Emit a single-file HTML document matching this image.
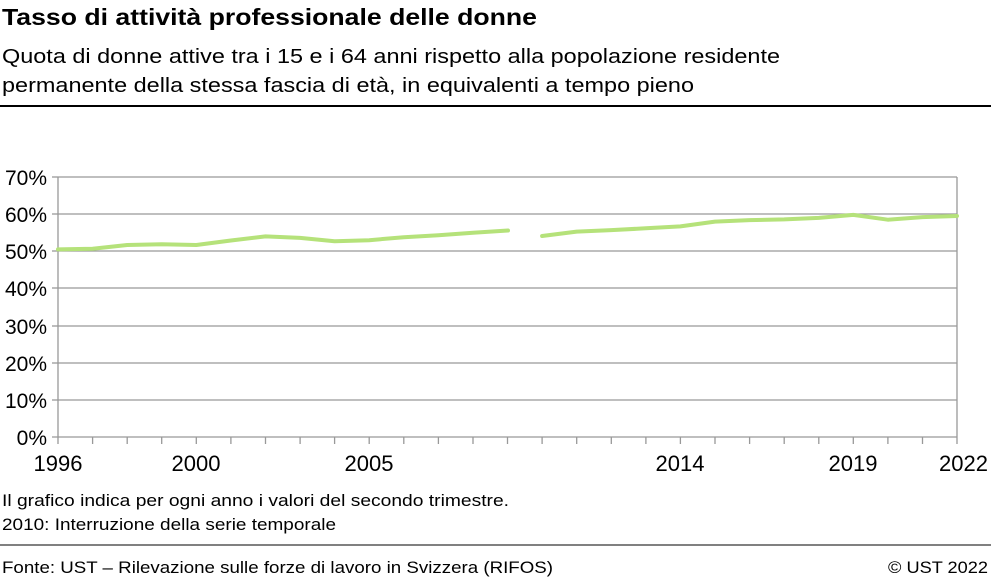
<!DOCTYPE html>
<html><head><meta charset="utf-8"><style>
body{margin:0;width:991px;height:580px;background:#fff;overflow:hidden;font-family:"Liberation Sans",sans-serif;}
svg{position:absolute;left:0;top:0}
</style></head><body>
<svg width="991" height="580" xmlns="http://www.w3.org/2000/svg" font-family="Liberation Sans, sans-serif">
<text x="2" y="25" font-size="23" font-weight="bold" fill="#000" textLength="535" lengthAdjust="spacingAndGlyphs">Tasso di attività professionale delle donne</text>
<text x="2" y="63" font-size="20" fill="#000" textLength="778" lengthAdjust="spacingAndGlyphs">Quota di donne attive tra i 15 e i 64 anni rispetto alla popolazione residente</text>
<text x="2" y="92" font-size="20" fill="#000" textLength="692" lengthAdjust="spacingAndGlyphs">permanente della stessa fascia di età, in equivalenti a tempo pieno</text>
<line x1="0" y1="106" x2="991" y2="106" stroke="#000" stroke-width="2"/>
<g stroke="#999" stroke-width="1.3">
<line x1="58" y1="177" x2="957" y2="177"/>
<line x1="58" y1="214" x2="957" y2="214"/>
<line x1="58" y1="251" x2="957" y2="251"/>
<line x1="58" y1="288" x2="957" y2="288"/>
<line x1="58" y1="326" x2="957" y2="326"/>
<line x1="58" y1="363" x2="957" y2="363"/>
<line x1="58" y1="400" x2="957" y2="400"/>
<line x1="52" y1="437" x2="957" y2="437"/>
<line x1="52" y1="177" x2="58" y2="177"/><line x1="52" y1="214" x2="58" y2="214"/><line x1="52" y1="251" x2="58" y2="251"/><line x1="52" y1="288" x2="58" y2="288"/><line x1="52" y1="326" x2="58" y2="326"/><line x1="52" y1="363" x2="58" y2="363"/><line x1="52" y1="400" x2="58" y2="400"/>
<line x1="58" y1="177" x2="58" y2="444"/>
<line x1="957" y1="177" x2="957" y2="444"/>
<path d="M92.6 437v7M127.2 437v7M161.7 437v7M196.3 437v7M230.9 437v7M265.5 437v7M300.1 437v7M334.6 437v7M369.2 437v7M403.8 437v7M438.4 437v7M473 437v7M507.5 437v7M542.1 437v7M576.7 437v7M611.3 437v7M645.9 437v7M680.4 437v7M715 437v7M749.6 437v7M784.2 437v7M818.8 437v7M853.3 437v7M887.9 437v7M922.5 437v7"/>
</g>
<g font-size="21" fill="#000" text-anchor="end">
<text x="47" y="185">70%</text><text x="47" y="222">60%</text><text x="47" y="259">50%</text><text x="47" y="296">40%</text><text x="47" y="334">30%</text><text x="47" y="371">20%</text><text x="47" y="408">10%</text><text x="47" y="445">0%</text>
</g>
<g font-size="22" fill="#000" text-anchor="middle">
<text x="58" y="471">1996</text><text x="196" y="471">2000</text><text x="369" y="471">2005</text><text x="680" y="471">2014</text><text x="853" y="471">2019</text><text x="988" y="471" text-anchor="end">2022</text>
</g>
<g fill="none" stroke="#b5e27a" stroke-width="4" stroke-linejoin="round" stroke-linecap="round">
<polyline points="58,249.4 92.6,248.7 127.2,245 161.7,244.2 196.3,245 230.9,240.5 265.5,236.4 300.1,237.9 334.6,241.3 369.2,240.2 403.8,237.2 438.4,235.3 473,232.7 508,230.5"/>
<polyline points="542.1,236 576.7,231.6 611.3,230.1 645.9,228.3 680.4,226.4 715,221.6 749.6,220.1 784.2,219.4 818.8,217.9 853.3,214.9 887.9,219.7 922.5,217.1 957,216"/>
</g>
<text x="2" y="506" font-size="17" fill="#000" textLength="507" lengthAdjust="spacingAndGlyphs">Il grafico indica per ogni anno i valori del secondo trimestre.</text>
<text x="2" y="530" font-size="17" fill="#000" textLength="334" lengthAdjust="spacingAndGlyphs">2010: Interruzione della serie temporale</text>
<line x1="0" y1="545" x2="991" y2="545" stroke="#000" stroke-width="1"/>
<text x="2" y="573" font-size="17" fill="#000" textLength="551" lengthAdjust="spacingAndGlyphs">Fonte: UST – Rilevazione sulle forze di lavoro in Svizzera (RIFOS)</text>
<text x="888" y="573" font-size="17" fill="#000" textLength="100" lengthAdjust="spacingAndGlyphs">© UST 2022</text>
</svg>
</body></html>
